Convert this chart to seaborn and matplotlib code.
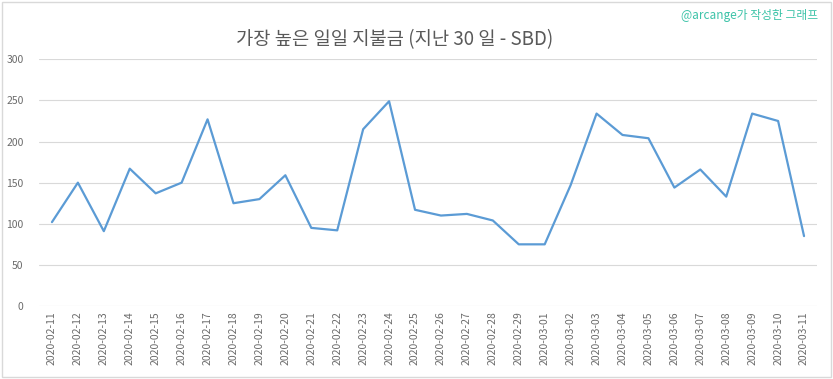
import matplotlib
matplotlib.use('Agg')
import matplotlib.pyplot as plt
import seaborn as sns
import pandas as pd
from matplotlib.patches import Rectangle

dates = [
    "2020-02-11", "2020-02-12", "2020-02-13", "2020-02-14", "2020-02-15",
    "2020-02-16", "2020-02-17", "2020-02-18", "2020-02-19", "2020-02-20",
    "2020-02-21", "2020-02-22", "2020-02-23", "2020-02-24", "2020-02-25",
    "2020-02-26", "2020-02-27", "2020-02-28", "2020-02-29", "2020-03-01",
    "2020-03-02", "2020-03-03", "2020-03-04", "2020-03-05", "2020-03-06",
    "2020-03-07", "2020-03-08", "2020-03-09", "2020-03-10", "2020-03-11",
]
payouts = [
    102, 150, 91, 167, 137, 150, 227, 125, 130, 159,
    95, 92, 215, 249, 117, 110, 112, 104, 75, 75,
    147, 234, 208, 204, 144, 166, 133, 234, 225, 85,
]
y_ticks = [0, 50, 100, 150, 200, 250, 300]

df = pd.DataFrame({"date": dates, "payout": payouts})

sns.set_theme(style="white")
plt.rcParams['font.family'] = ['Noto Sans CJK KR', 'DejaVu Sans']

fig = plt.figure(figsize=(8.33, 3.79), dpi=100)
ax = fig.add_axes([0.0468, 0.1926, 0.9340, 0.6509])

sns.lineplot(data=df, x="date", y="payout", ax=ax, color="#5b9bd5",
             linewidth=1.6, sort=False)

ax.set_xlim(-0.5, len(dates) - 0.5)
ax.set_ylim(0, 300)
ax.set_yticks(y_ticks)
ax.set_xticks(range(len(dates)))
ax.set_xticklabels(dates, rotation=90)
ax.tick_params(axis='both', length=0, labelsize=7.5, colors="#6b6b6b", pad=4)
ax.tick_params(axis='y', pad=11)
ax.yaxis.grid(True, color="#d9d9d9", linewidth=0.8)
ax.set_axisbelow(True)
for s in ax.spines.values():
    s.set_visible(False)
ax.set_xlabel("")
ax.set_ylabel("")

fig.text(395 / 833, 1 - 40 / 379, "가장 높은 일일 지불금 (지난 30 일 - SBD)",
         ha="center", va="center", fontsize=13.5, color="#595959")
fig.text(818 / 833, 1 - 15 / 379, "@arcange가 작성한 그래프",
         ha="right", va="center", fontsize=8.5, color="#3cc3a8")

fig.patches.append(Rectangle((0.002, 0.004), 0.995, 0.992, transform=fig.transFigure,
                             fill=False, edgecolor="#d9d9d9", linewidth=1))

fig.savefig("out.png", dpi=100)
